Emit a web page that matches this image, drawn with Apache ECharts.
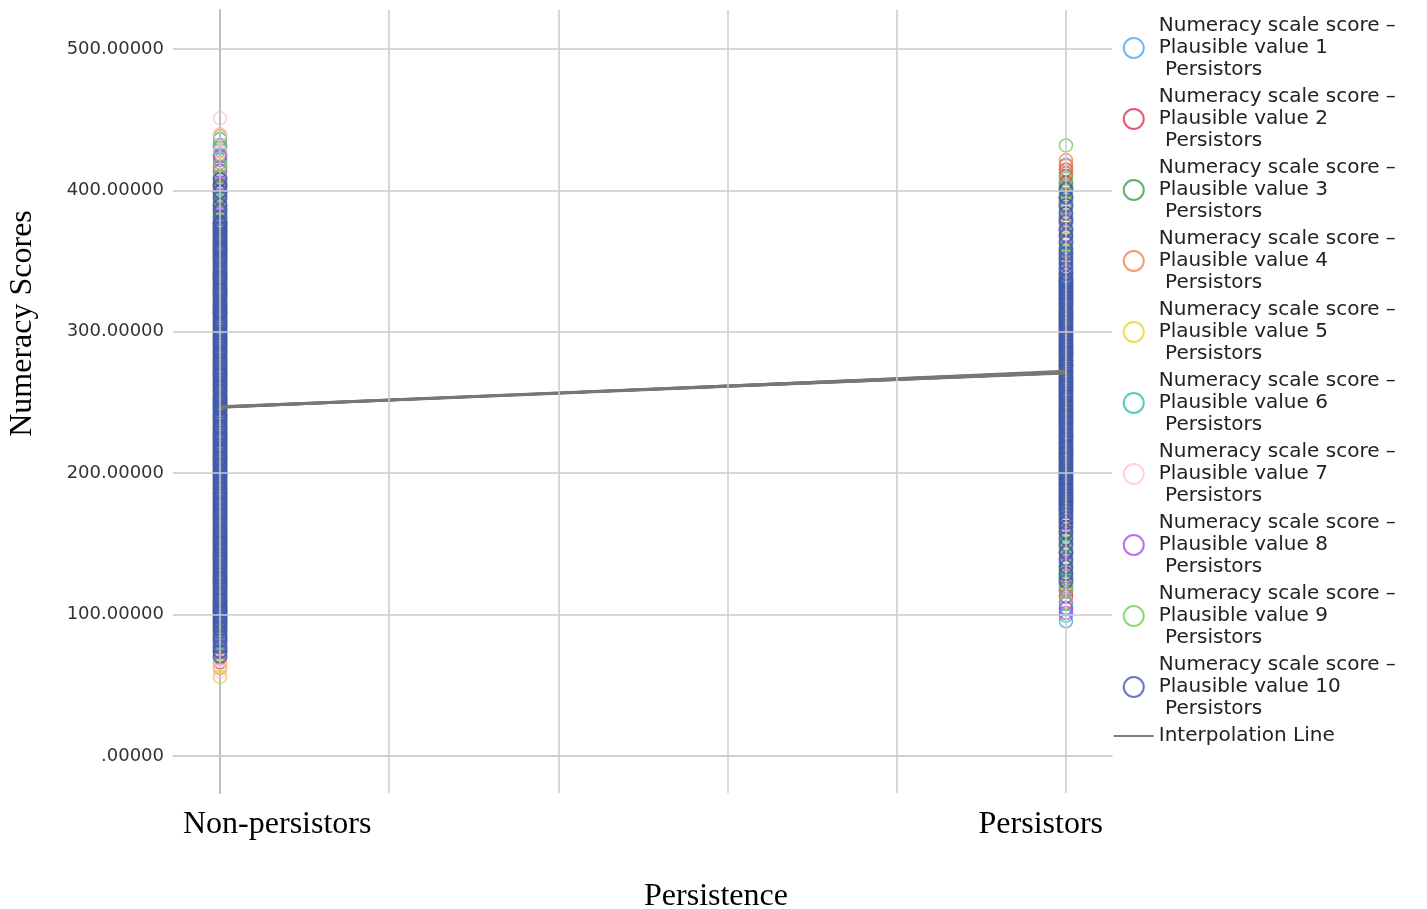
<!DOCTYPE html>
<html>
<head>
<meta charset="utf-8">
<title>Numeracy Scores by Persistence</title>
<script src="https://cdn.jsdelivr.net/npm/echarts@6/dist/echarts.min.js"></script>
<style>
  html, body { margin: 0; padding: 0; background: #fff; }
  #chart { width: 1427px; height: 909px; }
</style>
</head>
<body>
<div id="chart"></div>
<script>
// Group labels and their positions on the x scale
const categories = ['Non-persistors', 'Persistors'];
const groupX = [0, 5];
const xGridValues = [0, 1, 2, 3, 4, 5];
const yGridValues = [0, 100, 200, 300, 400, 500];

// Numeracy scores, plausible values 1..10, Non-persistors
const np1 = [72.3, 79.6, 88.2, 101.5, 118.7, 142.3, 167.9, 189.4, 210.6, 233.1, 251.8, 274.5, 296.2, 318.7, 341.0, 362.4, 381.6, 398.3, 412.9, 425.4, 432.1];
const np2 = [66.2, 75.8, 86.1, 104.3, 125.6, 150.2, 172.8, 196.1, 219.4, 240.7, 262.3, 285.9, 308.4, 329.8, 352.6, 371.2, 387.5, 401.9, 416.3, 428.0];
const np3 = [80.4, 89.7, 110.2, 133.5, 158.9, 181.3, 205.7, 228.4, 249.6, 270.1, 293.8, 316.2, 338.5, 359.7, 377.9, 389.6, 396.4, 402.8, 410.1];
const np4 = [62.1, 68.9, 83.5, 97.2, 121.4, 146.8, 170.5, 193.9, 216.2, 239.8, 258.7, 281.3, 305.6, 327.4, 349.9, 368.1, 385.7, 403.2, 419.6, 431.5, 438.9];
const np5 = [55.9, 63.4, 76.2, 94.8, 116.3, 139.5, 163.7, 187.2, 209.8, 231.4, 254.9, 277.6, 299.1, 322.8, 344.3, 366.5, 384.2, 399.7, 414.8, 427.3, 437.6];
const np6 = [73.9, 82.7, 99.6, 123.1, 148.4, 175.2, 199.8, 223.6, 246.3, 268.9, 290.7, 313.5, 335.2, 356.8, 375.1, 392.4, 408.6, 421.7, 430.3, 436.2];
const np7 = [59.8, 67.4, 80.9, 106.7, 131.8, 156.3, 180.6, 203.2, 226.9, 249.1, 271.7, 294.3, 317.0, 339.6, 361.8, 380.3, 397.9, 413.2, 427.8, 439.6, 451.0];
const np8 = [78.2, 81.6, 85.9, 102.8, 128.3, 153.6, 177.9, 201.4, 224.7, 247.2, 269.4, 292.5, 314.8, 336.9, 358.3, 376.6, 384.1, 391.2, 398.7, 405.4, 413.8, 424.1];
const np9 = [84.1, 96.5, 114.8, 137.2, 161.5, 185.8, 208.3, 231.9, 253.2, 276.4, 298.8, 320.5, 343.1, 364.9, 379.8, 387.2, 393.5, 400.1, 408.7, 416.9];
const np10 = [70.4, 73.8, 77.1, 81.5, 84.2, 87.9, 90.3,
  92.1, 93.9, 95.4, 97.6, 99.0, 100.8, 102.5, 104.2, 105.7, 107.7, 109.3, 110.9, 112.9, 114.4, 116.0, 117.9, 119.6, 121.1, 123.0,
  124.6, 126.3, 127.8, 129.7, 131.4, 132.9, 134.7, 136.4, 138.0, 139.6, 141.3, 143.1, 144.8, 146.2, 148.0, 149.8, 151.4, 152.9,
  154.7, 156.5, 158.1, 159.7, 161.4, 163.2, 164.8, 166.3, 168.1, 169.9, 171.5, 173.0, 174.8, 176.6, 178.2, 179.7, 181.5, 183.3,
  184.9, 186.4, 188.2, 190.0, 191.6, 193.1, 194.9, 196.7, 198.3, 199.8, 201.6, 203.4, 205.0, 206.5, 208.3, 210.1, 211.7, 213.2,
  215.0, 216.8, 218.4, 219.9, 221.7, 223.5, 225.1, 226.6, 228.4, 230.2, 231.8, 233.3, 235.1, 236.9, 238.5, 240.0, 241.8, 243.6,
  245.2, 246.7, 248.5, 250.3, 251.9, 253.4, 255.2, 257.0, 258.6, 260.1, 261.9, 263.7, 265.3, 266.8, 268.6, 270.4, 272.0, 273.5,
  275.3, 277.1, 278.7, 280.2, 282.0, 283.8, 285.4, 286.9, 288.7, 290.5, 292.1, 293.6, 295.4, 297.2, 298.8, 300.3, 302.1, 303.9,
  305.5, 307.0, 308.8, 310.6, 312.2, 313.7, 315.5, 317.3, 318.9, 320.4, 322.2, 324.0, 325.6, 327.1, 328.9, 330.7, 332.3, 333.8,
  335.6, 337.4, 339.0, 340.5, 342.3, 344.1, 345.7, 347.2, 349.0, 350.8, 352.4, 353.9, 355.7, 357.5, 359.1, 360.6, 362.4, 364.2,
  365.8, 367.3, 369.1, 370.9, 372.5, 374.0, 375.8, 377.6,
  381.2, 385.6, 389.4, 394.8, 399.1, 403.5, 407.9];

// Numeracy scores, plausible values 1..10, Persistors
const p1 = [95.3, 104.8, 119.6, 137.4, 156.8, 178.2, 199.5, 221.3, 243.7, 265.4, 287.1, 309.6, 330.2, 352.8, 371.5, 389.4, 404.7, 411.9, 418.2];
const p2 = [112.9, 116.4, 126.8, 145.3, 166.1, 188.7, 210.4, 232.9, 254.6, 276.2, 298.5, 319.8, 341.3, 362.7, 380.6, 396.1, 405.8, 410.2, 414.6];
const p3 = [125.4, 131.2, 142.7, 161.9, 183.6, 205.3, 227.8, 249.2, 271.5, 292.9, 314.4, 336.1, 357.4, 376.9, 392.3, 399.8, 405.1];
const p4 = [108.6, 120.3, 139.9, 160.4, 181.7, 203.8, 225.5, 247.1, 268.8, 290.3, 312.7, 334.5, 355.2, 374.6, 390.8, 403.1, 412.4, 417.5, 421.3];
const p5 = [149.8, 157.3, 172.6, 194.2, 216.9, 238.4, 260.7, 282.1, 304.6, 326.3, 347.9, 366.2, 381.4, 390.1];
const p6 = [99.2, 107.5, 124.9, 148.1, 170.3, 192.6, 214.8, 236.5, 258.2, 279.9, 301.4, 323.7, 345.1, 364.8, 381.3, 394.5, 401.9];
const p7 = [140.3, 151.6, 169.8, 191.2, 213.5, 235.7, 257.3, 279.4, 301.8, 323.1, 344.6, 363.5, 377.2, 385.1];
const p8 = [101.1, 103.9, 118.2, 136.5, 143.8, 158.7, 164.2, 174.9, 196.3, 218.4, 240.2, 262.5, 284.6, 306.8, 328.4, 349.7, 368.9, 379.6, 387.3, 394.8];
const p9 = [117.2, 121.8, 128.7, 134.6, 147.2, 152.9, 159.4, 168.5, 179.1, 199.7, 221.2, 243.4, 265.1, 287.6, 309.2, 331.8, 353.5, 372.1, 386.9, 397.6, 408.3, 431.8];
const p10 = [123.4, 128.9, 133.6, 139.2, 144.0, 149.5, 153.8, 158.1, 161.9, 165.2, 168.0, 170.6, 172.9,
  175.1, 176.8, 178.6, 180.3, 181.9, 183.7, 185.4, 187.0, 188.8, 190.5, 192.1, 193.9, 195.6, 197.2, 199.0, 200.7, 202.3, 204.1,
  205.8, 207.4, 209.2, 210.9, 212.5, 214.3, 216.0, 217.6, 219.4, 221.1, 222.7, 224.5, 226.2, 227.8, 229.6, 231.3, 232.9, 234.7,
  236.4, 238.0, 239.8, 241.5, 243.1, 244.9, 246.6, 248.2, 250.0, 251.7, 253.3, 255.1, 256.8, 258.4, 260.2, 261.9, 263.5, 265.3,
  267.0, 268.6, 270.4, 272.1, 273.7, 275.5, 277.2, 278.8, 280.6, 282.3, 283.9, 285.7, 287.4, 289.0, 290.8, 292.5, 294.1, 295.9,
  297.6, 299.2, 301.0, 302.7, 304.3, 306.1, 307.8, 309.4, 311.2, 312.9, 314.5, 316.3, 318.0, 319.6, 321.4, 323.1, 324.7, 326.5,
  328.2, 329.8, 331.6, 333.3, 334.9, 336.7, 338.4,
  341.2, 344.5, 347.9, 351.6, 355.3, 359.0, 363.4, 367.8, 372.4, 378.0, 383.9, 389.5, 395.2, 400.8];

// Group means per plausible value (interpolation lines)
const meansNonPersistors = [246.4, 247.1, 246.8, 246.2, 247.3, 246.6, 246.9, 246.5, 247.0, 246.7];
const meansPersistors = [270.8, 271.9, 271.2, 272.4, 270.5, 271.6, 272.0, 271.3, 270.9, 271.7];

const nonPersistorScores = [np1, np2, np3, np4, np5, np6, np7, np8, np9, np10];
const persistorScores = [p1, p2, p3, p4, p5, p6, p7, p8, p9, p10];

const pvColors = ['#5aa2e8', '#e0304f', '#3e9a48', '#f5814f', '#e8d630', '#2bbfae', '#fbc6da', '#a64cf2', '#78cb56', '#3e5aab'];
const lineName = 'Interpolation Line';
const X_MIN = -0.278, X_MAX = 5.272;

const pvNames = pvColors.map((c, i) => 'Numeracy scale score –\nPlausible value ' + (i + 1) + '\n Persistors');

const series = [];

// Grid lines
series.push({
  type: 'line',
  name: 'grid',
  data: [],
  silent: true,
  z: 0,
  markLine: {
    silent: true,
    symbol: 'none',
    label: { show: false },
    lineStyle: { color: '#cbcbcb', width: 1.5, type: 'solid' },
    emphasis: { disabled: true },
    data: xGridValues.map(v => ({ xAxis: v })).concat(yGridValues.map(v => ({ yAxis: v })))
  }
});

pvNames.forEach((name, i) => {
  const data = nonPersistorScores[i].map(v => [groupX[0], v])
    .concat(persistorScores[i].map(v => [groupX[1], v]));
  series.push({
    type: 'scatter',
    name: name,
    data: data,
    symbol: 'circle',
    symbolSize: 13,
    itemStyle: {
      color: 'rgba(0,0,0,0)',
      borderColor: pvColors[i],
      borderWidth: i === 9 ? 2 : 1.6
    },
    emphasis: { disabled: true },
    z: 2
  });
});

meansNonPersistors.forEach((m, i) => {
  series.push({
    type: 'line',
    name: lineName,
    data: [[groupX[0], m], [groupX[1], meansPersistors[i]]],
    symbol: 'none',
    lineStyle: { color: '#777777', width: 2 },
    emphasis: { disabled: true },
    z: 3
  });
});

const legendData = pvNames.map(n => ({ name: n }))
  .concat([{ name: lineName, itemStyle: { opacity: 0 }, lineStyle: { color: '#555', width: 1.5 } }]);

const option = {
  backgroundColor: '#ffffff',
  animation: false,
  grid: { left: 173, right: 315, top: 10, bottom: 116, containLabel: false, outerBoundsMode: 'none' },
  legend: {
    orient: 'vertical',
    left: 1108,
    top: 10,
    itemWidth: 40,
    itemHeight: 20,
    itemGap: 5,
    selectedMode: false,
    data: legendData,
    textStyle: {
      fontFamily: 'DejaVu Sans',
      fontSize: 20,
      lineHeight: 22,
      color: '#222'
    }
  },
  xAxis: {
    type: 'value',
    min: X_MIN,
    max: X_MAX,
    name: 'Persistence',
    nameLocation: 'middle',
    nameGap: 88,
    nameTextStyle: {
      fontFamily: 'Liberation Serif',
      fontSize: 32,
      color: '#000',
      padding: [0, 0, 0, 147]
    },
    axisLine: { show: true, lineStyle: { color: '#cfcfcf', width: 1.5 } },
    axisTick: { show: false },
    splitLine: { show: false },
    axisLabel: {
      show: true,
      showMinLabel: true,
      showMaxLabel: true,
      alignMinLabel: 'left',
      alignMaxLabel: 'right',
      margin: 16,
      padding: [0, 9, 0, 10],
      fontFamily: 'Liberation Serif',
      fontSize: 32,
      color: '#000',
      formatter: v => {
        if (Math.abs(v - X_MIN) < 1e-6) return categories[0];
        if (Math.abs(v - X_MAX) < 1e-6) return categories[1];
        return '';
      }
    }
  },
  yAxis: {
    type: 'value',
    min: -26.2,
    max: 527.6,
    name: 'Numeracy Scores',
    nameLocation: 'middle',
    nameRotate: 90,
    nameGap: 134,
    nameTextStyle: {
      fontFamily: 'Liberation Serif',
      fontSize: 32,
      color: '#000',
      padding: [0, 0, 0, 156]
    },
    axisLine: { show: true, lineStyle: { color: '#6f6f6f', width: 1.5 } },
    axisTick: { show: false },
    splitLine: { show: false },
    axisLabel: {
      showMinLabel: false,
      showMaxLabel: false,
      margin: 9,
      fontFamily: 'DejaVu Sans',
      fontSize: 18,
      color: '#333',
      formatter: v => {
        const r = Math.round(v);
        if (Math.abs(v - r) > 1e-6 || r % 100 !== 0) return '';
        return r === 0 ? '.00000' : r.toFixed(5);
      }
    }
  },
  series: series
};

const chart = echarts.init(document.getElementById('chart'), null, { renderer: 'canvas' });
chart.setOption(option);
</script>
</body>
</html>
